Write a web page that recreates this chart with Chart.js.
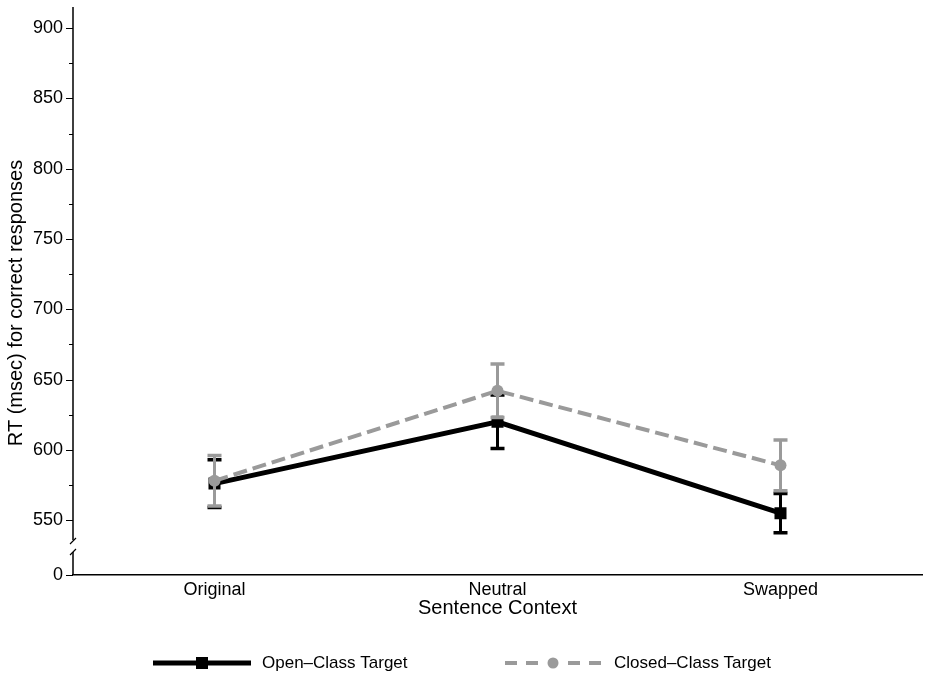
<!DOCTYPE html>
<html>
<head>
<meta charset="utf-8">
<script src="https://cdn.jsdelivr.net/npm/chart.js@4.4.0/dist/chart.umd.min.js"></script>
<style>
  html, body { margin: 0; padding: 0; background: #fff; }
  #wrap { width: 927px; height: 677px; position: relative; }
</style>
</head>
<body>
<div id="wrap"><canvas id="rtChart"></canvas></div>
<script>
const contextos = ["Original", "Neutral", "Swapped"];
const openClassRT = [576, 620, 555];
const openClassErr = [17, 19, 14];
const closedClassRT = [578, 642, 589];
const closedClassErr = [18, 19, 18];
const yTickValues = [550, 600, 650, 700, 750, 800, 850, 900];
const yMinorValues = [575, 625, 675, 725, 775, 825, 875];
const ejeCero = 511; // posicion del "0" en el eje cortado
const tituloY = "RT (msec) for correct responses";
const fuente = "'Liberation Sans', Arial, sans-serif";

// Dibuja eje Y con corte, marcas, barras de error, titulo Y y leyenda
const ejeRoto = {
  id: "ejeRoto",
  beforeDatasetDraw(chart, args) {
    const ds = chart.data.datasets[args.index];
    const errores = ds.errores;
    if (!errores) return;
    const ctx = chart.ctx;
    const x = chart.scales.x;
    const y = chart.scales.y;
    ctx.save();
    ctx.strokeStyle = ds.borderColor;
    ctx.setLineDash([]);
    ds.data.forEach(function (valor, i) {
      const px = x.getPixelForValue(i);
      const top = y.getPixelForValue(valor + errores[i]);
      const bot = y.getPixelForValue(valor - errores[i]);
      ctx.lineWidth = 3;
      ctx.beginPath();
      ctx.moveTo(px, top);
      ctx.lineTo(px, bot);
      ctx.stroke();
      ctx.lineWidth = 3.5;
      ctx.beginPath();
      ctx.moveTo(px - 7, top);
      ctx.lineTo(px + 7, top);
      ctx.moveTo(px - 7, bot);
      ctx.lineTo(px + 7, bot);
      ctx.stroke();
    });
    ctx.restore();
  },
  afterDraw(chart) {
    const ctx = chart.ctx;
    const y = chart.scales.y;
    const area = chart.chartArea;
    const ax = area.left;
    const cero = y.getPixelForValue(ejeCero);
    ctx.save();
    ctx.strokeStyle = "#000";
    ctx.lineWidth = 1.5;
    // linea del eje con corte
    ctx.beginPath();
    ctx.moveTo(ax, area.top);
    ctx.lineTo(ax, cero - 35);
    ctx.moveTo(ax, cero - 23);
    ctx.lineTo(ax, cero);
    ctx.stroke();
    ctx.lineWidth = 1.2;
    ctx.beginPath();
    ctx.moveTo(ax - 3, cero - 31);
    ctx.lineTo(ax + 3, cero - 37);
    ctx.moveTo(ax - 3, cero - 20);
    ctx.lineTo(ax + 3, cero - 26);
    ctx.stroke();
    // marcas
    ctx.lineWidth = 1;
    ctx.beginPath();
    yTickValues.concat([ejeCero]).forEach(function (v) {
      const py = Math.round(y.getPixelForValue(v)) + 0.5;
      ctx.moveTo(ax - 7, py);
      ctx.lineTo(ax, py);
    });
    yMinorValues.forEach(function (v) {
      const py = Math.round(y.getPixelForValue(v)) + 0.5;
      ctx.moveTo(ax - 4, py);
      ctx.lineTo(ax, py);
    });
    ctx.stroke();

    // titulo del eje Y
    ctx.fillStyle = "#000";
    ctx.save();
    ctx.translate(16, 303);
    ctx.rotate(-Math.PI / 2);
    ctx.font = "20px " + fuente;
    ctx.textAlign = "center";
    ctx.textBaseline = "middle";
    ctx.fillText(tituloY, 0, 0);
    ctx.restore();

    // leyenda
    const ly = 663;
    const abierta = chart.data.datasets[0];
    const cerrada = chart.data.datasets[1];
    ctx.strokeStyle = abierta.borderColor;
    ctx.lineWidth = 5;
    ctx.beginPath();
    ctx.moveTo(153, ly);
    ctx.lineTo(251, ly);
    ctx.stroke();
    ctx.fillStyle = abierta.borderColor;
    ctx.fillRect(196, ly - 6, 12, 12);

    ctx.strokeStyle = cerrada.borderColor;
    ctx.lineWidth = 4;
    ctx.setLineDash([12, 9]);
    ctx.beginPath();
    ctx.moveTo(505, ly);
    ctx.lineTo(604, ly);
    ctx.stroke();
    ctx.setLineDash([]);
    ctx.fillStyle = "#fff";
    ctx.fillRect(545, ly - 6, 16, 12);
    ctx.fillStyle = cerrada.borderColor;
    ctx.beginPath();
    ctx.arc(553, ly, 5.5, 0, Math.PI * 2);
    ctx.fill();

    ctx.fillStyle = "#000";
    ctx.font = "17px " + fuente;
    ctx.textBaseline = "middle";
    ctx.textAlign = "left";
    ctx.fillText(abierta.label, 262, ly);
    ctx.fillText(cerrada.label, 614, ly);
    ctx.restore();
  },
};

const ctx = document.getElementById("rtChart").getContext("2d");
const grafico = new Chart(ctx, {
  type: "line",
  data: {
    labels: contextos,
    datasets: [
      {
        label: "Open\u2013Class Target",
        data: openClassRT,
        errores: openClassErr,
        borderColor: "#000",
        backgroundColor: "#000",
        borderWidth: 5,
        pointStyle: "rect",
        pointRadius: 8.5,
        pointBorderWidth: 0,
        tension: 0,
        order: 2,
      },
      {
        label: "Closed\u2013Class Target",
        data: closedClassRT,
        errores: closedClassErr,
        borderColor: "#9a9a9a",
        backgroundColor: "#9a9a9a",
        borderWidth: 4,
        borderDash: [14, 6],
        pointStyle: "circle",
        pointRadius: 6,
        pointBorderWidth: 0,
        tension: 0,
        order: 1,
      },
    ],
  },
  options: {
    responsive: true,
    maintainAspectRatio: false,
    animation: false,
    layout: {
      autoPadding: false,
      padding: { top: 7, right: 5, bottom: 55, left: 0 },
    },
    plugins: {
      legend: { display: false },
      tooltip: { enabled: false },
    },
    scales: {
      x: {
        type: "category",
        offset: true,
        grid: { display: false, drawTicks: false },
        border: { display: true, color: "#000", width: 1.5 },
        ticks: {
          color: "#000",
          padding: 4,
          font: { family: fuente, size: 18 },
        },
        title: {
          display: true,
          text: "Sentence Context",
          color: "#000",
          font: { family: fuente, size: 20 },
          padding: { top: 0, bottom: 2 },
        },
        afterFit: function (scale) {
          scale.height = 47;
          scale.paddingLeft = 0;
          scale.paddingRight = 0;
        },
      },
      y: {
        min: ejeCero,
        max: 915,
        grid: { display: false, drawTicks: false },
        border: { display: false },
        afterBuildTicks: function (scale) {
          scale.ticks = [ejeCero].concat(yTickValues).map(function (v) {
            return { value: v };
          });
        },
        ticks: {
          color: "#000",
          padding: 10,
          autoSkip: false,
          font: { family: fuente, size: 18 },
          callback: function (v) {
            return v === ejeCero ? "0" : v;
          },
        },
        title: { display: false },
        afterFit: function (scale) {
          scale.width = 73;
          scale.paddingTop = 0;
          scale.paddingBottom = 0;
        },
      },
    },
  },
  plugins: [ejeRoto],
});
</script>
</body>
</html>
